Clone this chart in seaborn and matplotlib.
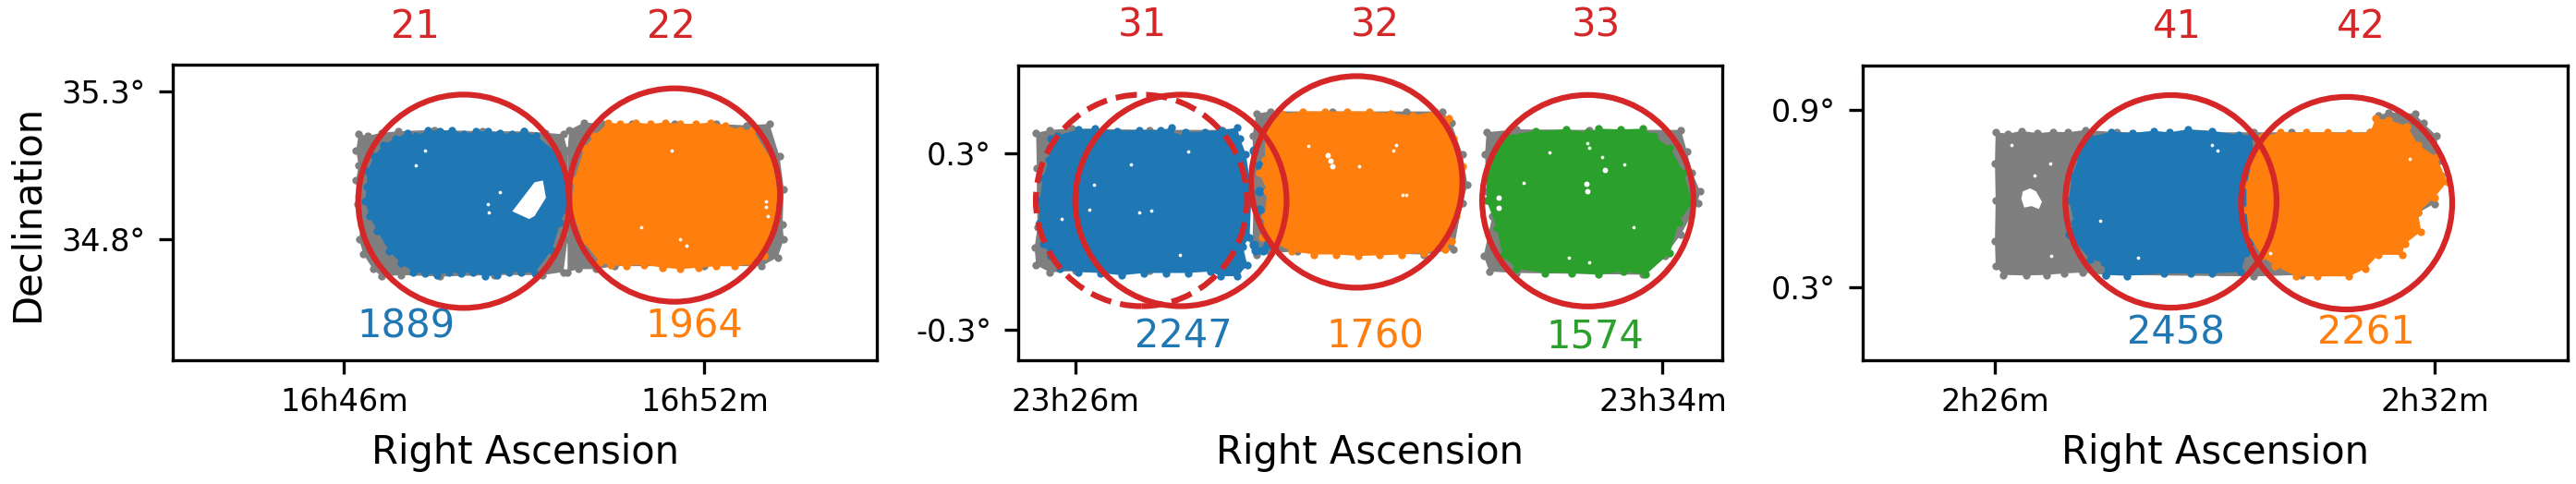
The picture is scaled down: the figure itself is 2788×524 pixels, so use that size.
import numpy as np
import matplotlib
matplotlib.use('Agg')
import matplotlib.pyplot as plt
from matplotlib.patches import Ellipse
import seaborn as sns

# field outlines. ra in minutes of the panel's hour, dec in degrees
# panel 1 (16h)
grey1_ra = [46.24, 46.40, 46.62, 46.90, 47.5, 48.3, 49.0, 49.35, 49.65, 49.72, 49.72, 49.72, 49.65, 49.3, 48.5, 47.6, 46.95, 46.62, 46.48, 46.32, 46.25, 46.28, 46.22, 46.20, 46.24, 46.20]
grey1_dec = [35.155, 35.150, 35.16, 35.165, 35.17, 35.165, 35.165, 35.16, 35.155, 35.10, 34.95, 34.80, 34.69, 34.68, 34.68, 34.675, 34.68, 34.675, 34.70, 34.75, 34.80, 34.85, 34.92, 35.0, 35.05, 35.10]
grey2_ra = [49.75, 50.0, 50.3, 50.8, 51.5, 52.2, 52.7, 53.08, 53.25, 53.32, 53.3, 53.32, 53.22, 52.95, 52.0, 50.5, 50.2, 49.9, 49.72, 49.72, 49.72]
grey2_dec = [35.17, 35.195, 35.19, 35.19, 35.19, 35.19, 35.185, 35.19, 35.08, 34.97, 34.85, 34.80, 34.74, 34.71, 34.71, 34.71, 34.70, 34.70, 34.69, 34.85, 35.1]
blue21_ra = [46.85, 47.05, 47.20, 47.40, 47.60, 47.80, 48.00, 48.20, 48.40, 48.60, 48.80, 49.00, 49.20, 49.55, 49.70, 49.70, 49.60, 49.46, 49.17, 48.95, 48.75, 48.55, 48.35, 48.15, 47.95, 47.75, 47.55, 47.35, 47.15, 46.95, 46.75, 46.55, 46.42, 46.35, 46.38, 46.38, 46.50, 46.65]
blue21_dec = [35.14, 35.16, 35.15, 35.17, 35.165, 35.17, 35.155, 35.165, 35.165, 35.16, 35.155, 35.165, 35.15, 35.09, 35.00, 34.90, 34.858, 34.765, 34.687, 34.69, 34.69, 34.68, 34.675, 34.69, 34.685, 34.69, 34.68, 34.685, 34.69, 34.72, 34.76, 34.83, 34.88, 34.93, 34.98, 35.03, 35.08, 35.12]
orange22_ra = [50.16, 50.4, 50.6, 50.85, 51.1, 51.35, 51.6, 51.85, 52.1, 52.35, 52.6, 52.8, 53.13, 53.22, 53.18, 52.99, 52.8, 52.5, 52.2, 51.9, 51.6, 51.3, 51.0, 50.7, 50.44, 50.26, 49.97, 49.79, 49.83, 50.0]
orange22_dec = [35.149, 35.195, 35.19, 35.195, 35.19, 35.195, 35.19, 35.19, 35.195, 35.185, 35.17, 35.17, 35.066, 34.962, 34.858, 34.744, 34.715, 34.71, 34.71, 34.705, 34.70, 34.705, 34.715, 34.71, 34.713, 34.723, 34.796, 34.9, 35.0, 35.108]
hole21_ra = [48.80, 49.17, 49.31, 49.36, 49.17, 49.08]
hole21_dec = [34.895, 34.993, 34.999, 34.941, 34.879, 34.869]
holes1_small_ra = [48.39, 48.41, 53.03, 53.05, 53.02, 47.2, 47.35, 48.6, 51.6, 51.7, 51.45, 50.95]
holes1_small_dec = [34.92, 34.89, 34.91, 34.88, 34.93, 35.05, 35.1, 34.96, 34.8, 34.78, 35.1, 34.84]

# panel 2 (23h)
grey31_ra = [25.46, 25.65, 25.95, 27.0, 28.0, 28.2, 28.3, 28.2, 27.0, 26.0, 25.65, 25.46, 25.44, 25.48, 25.47, 25.47]
grey31_dec = [0.37, 0.38, 0.385, 0.38, 0.38, 0.3, 0.1, -0.1, -0.1, -0.10, -0.105, -0.08, -0.02, 0.05, 0.15, 0.25]
blue31_ra = [25.66, 25.74, 26.04, 26.26, 26.56, 26.86, 27.16, 27.31, 27.37, 27.49, 27.76, 27.98, 28.2, 28.24, 28.32, 28.37, 28.39, 28.37, 28.28, 28.34, 28.2, 27.98, 27.83, 27.53, 27.23, 26.93, 26.63, 26.34, 26.04, 25.78, 25.66, 25.55, 25.5, 25.51, 25.55, 25.63, 25.65]
blue31_dec = [0.35, 0.36, 0.382, 0.384, 0.377, 0.38, 0.38, 0.387, 0.356, 0.372, 0.374, 0.38, 0.387, 0.35, 0.298, 0.214, 0.13, 0.014, -0.018, -0.081, -0.118, -0.118, -0.102, -0.107, -0.107, -0.107, -0.115, -0.107, -0.104, -0.094, -0.049, -0.007, 0.066, 0.14, 0.214, 0.277, 0.32]
blue31_extra_ra = [28.43, 28.5, 28.5, 28.5, 28.43, 28.45, 28.55, 28.62]
blue31_extra_dec = [0.31, 0.26, 0.17, 0.11, -0.01, -0.03, -0.03, -0.01]
grey32_ra = [28.46, 28.65, 29.5, 30.5, 31.0, 31.12, 31.27, 31.34, 31.27, 31.15, 30.74, 29.02, 28.65, 28.46, 28.41, 28.43, 28.41]
grey32_dec = [0.435, 0.443, 0.443, 0.443, 0.443, 0.403, 0.298, 0.193, 0.13, -0.028, -0.044, -0.034, -0.039, -0.044, 0.003, 0.193, 0.36]
orange32_ra = [28.8, 28.65, 28.58, 28.58, 28.5, 28.61, 28.58, 28.54, 28.73, 28.95, 29.25, 29.55, 29.85, 30.14, 30.44, 30.74, 31.04, 31.12, 31.08, 31.19, 31.23, 31.27, 31.15, 31.08, 30.89, 30.59, 30.29, 30.0, 29.7, 29.4, 29.1]
orange32_dec = [0.435, 0.403, 0.36, 0.277, 0.235, 0.172, 0.087, 0.014, -0.007, -0.034, -0.044, -0.044, -0.049, -0.047, -0.044, -0.039, -0.028, 0.003, 0.045, 0.087, 0.172, 0.256, 0.351, 0.419, 0.443, 0.429, 0.437, 0.443, 0.443, 0.443, 0.443]
grey33_ra = [31.6, 32.01, 33.0, 34.25, 34.33, 34.4, 34.51, 34.48, 34.25, 34.03, 33.73, 32.01, 31.64, 31.56, 31.68, 31.6, 31.58]
grey33_dec = [0.372, 0.382, 0.38, 0.38, 0.308, 0.235, 0.172, 0.13, 0.024, -0.049, -0.113, -0.107, -0.102, -0.049, 0.087, 0.172, 0.298]
green33_ra = [31.86, 32.27, 32.68, 32.98, 33.13, 33.43, 33.73, 33.88, 34.1, 34.29, 34.4, 34.22, 34.1, 33.77, 33.47, 33.13, 32.76, 32.39, 32.01, 31.82, 31.74, 31.6, 31.6, 31.76]
green33_dec = [0.361, 0.377, 0.382, 0.372, 0.384, 0.382, 0.384, 0.361, 0.319, 0.235, 0.13, 0.066, -0.039, -0.113, -0.102, -0.113, -0.107, -0.107, -0.092, -0.049, 0.045, 0.14, 0.224, 0.319]
holes2_big_ra = [29.44, 29.47, 29.5, 32.96, 32.97, 31.76, 31.76, 33.21]
holes2_big_dec = [0.295, 0.275, 0.255, 0.195, 0.17, 0.15, 0.115, 0.245]
holes2_small_ra = [26.25, 27.03, 26.75, 27.53, 27.42, 25.81, 26.86, 26.19, 30.37, 30.33, 30.45, 30.5, 29.17, 29.86, 32.98, 33.0, 33.17, 32.46, 32.72, 33.48, 33.0, 32.1, 33.6]
holes2_small_dec = [0.193, 0.105, 0.261, 0.308, -0.044, 0.077, 0.098, 0.108, 0.329, 0.31, 0.159, 0.159, 0.324, 0.256, 0.335, 0.32, 0.287, 0.303, -0.055, 0.261, -0.071, 0.2, 0.05]

# panel 3 (2h)
grey4_ra = [26.01, 26.18, 26.36, 26.58, 26.79, 27.0, 27.23, 27.66, 29.53, 30.04, 31.12, 31.23, 31.37, 31.73, 31.84, 32.02, 32.06, 32.09, 31.99, 31.77, 31.26, 30.54, 30.18, 29.53, 27.51, 27.2, 26.94, 26.7, 26.43, 26.11, 26.01, 26.0, 26.01, 26.0]
grey4_dec = [0.825, 0.82, 0.83, 0.822, 0.827, 0.825, 0.833, 0.825, 0.825, 0.825, 0.825, 0.882, 0.893, 0.888, 0.856, 0.814, 0.73, 0.678, 0.583, 0.552, 0.436, 0.352, 0.342, 0.337, 0.342, 0.35, 0.347, 0.342, 0.34, 0.342, 0.373, 0.457, 0.594, 0.72]
blue41_ra = [27.3, 27.59, 27.87, 28.16, 28.38, 28.63, 28.96, 29.32, 29.5, 29.53, 29.46, 29.43, 29.53, 29.57, 29.43, 29.35, 28.96, 28.67, 28.31, 27.8, 27.51, 27.48, 27.3, 27.08, 27.01, 27.08, 27.01, 27.05, 27.15, 27.19]
blue41_dec = [0.809, 0.827, 0.823, 0.83, 0.825, 0.835, 0.83, 0.817, 0.814, 0.751, 0.688, 0.604, 0.52, 0.457, 0.415, 0.352, 0.347, 0.347, 0.347, 0.339, 0.342, 0.384, 0.394, 0.457, 0.478, 0.52, 0.594, 0.678, 0.741, 0.783]
orange42_ra = [29.64, 29.89, 30.25, 30.54, 30.83, 31.12, 31.19, 31.37, 31.62, 31.77, 32.02, 32.17, 31.99, 31.77, 31.81, 31.59, 31.55, 31.23, 31.05, 30.83, 30.4, 30.11, 29.82, 29.64, 29.46, 29.43, 29.43, 29.5, 29.57]
orange42_dec = [0.809, 0.825, 0.825, 0.825, 0.823, 0.825, 0.872, 0.867, 0.846, 0.783, 0.741, 0.657, 0.604, 0.552, 0.489, 0.447, 0.41, 0.41, 0.363, 0.337, 0.337, 0.337, 0.373, 0.405, 0.478, 0.562, 0.646, 0.72, 0.751]
hole41_ra = [26.38, 26.48, 26.56, 26.64, 26.6, 26.5, 26.4, 26.36]
hole41_dec = [0.625, 0.635, 0.625, 0.59, 0.565, 0.575, 0.57, 0.6]
holes3_small_ra = [26.22, 26.54, 26.76, 26.77, 27.44, 27.95, 28.96, 29.03, 31.66, 29.75]
holes3_small_dec = [0.783, 0.678, 0.72, 0.405, 0.526, 0.4, 0.783, 0.762, 0.735, 0.415]

# circles: (ra centre, dec centre)
circles1 = [(47.99, 34.929), (51.5, 34.95)]
circles2 = [(27.434, 0.14), (29.83, 0.203), (32.98, 0.139)]
circle2_dashed = (26.896, 0.14)
circles3 = [(28.40, 0.591), (30.795, 0.585)]
radius_deg = 0.36

# numbers
labels1, labels1_ra, labels1_dec = ['21', '22'], [47.18, 51.45], 35.518
labels2, labels2_ra, labels2_dec = ['31', '32', '33'], [26.91, 30.085, 33.09], 0.735
labels3, labels3_ra, labels3_dec = ['41', '42'], [28.49, 30.99], 1.1835
counts1, counts1_ra, counts1_dec = ['1889', '1964'], [47.03, 51.83], 34.507
counts2, counts2_ra, counts2_dec = ['2247', '1760', '1574'], [27.47, 30.085, 33.08], -0.323
counts3, counts3_ra, counts3_dec = ['2458', '2261'], [28.466, 31.06], 0.146


def draw_blob(ax, ra, dec, color):
    ax.fill(ra, dec, color=color, linewidth=0)
    sns.scatterplot(x=ra, y=dec, color=color, s=4, linewidth=0, ax=ax)


def draw_holes(ax, ra, dec, size):
    sns.scatterplot(x=ra, y=dec, color='white', s=size, linewidth=0, ax=ax)


def draw_circle(ax, ra, dec, ls='-'):
    # 4 minutes of RA per degree, stretched by cos(dec)
    w = 2 * radius_deg * 4 / np.cos(np.radians(dec))
    ax.add_patch(Ellipse((ra, dec), w, 2 * radius_deg, fill=False, edgecolor='tab:red',
                         linewidth=1.5, linestyle=ls, zorder=5))


W, H = 2788, 524
fig = plt.figure(figsize=(W / 300, H / 300), dpi=300)


def make_axes(left, right, top, bottom):
    return fig.add_axes([left / W, 1 - bottom / H, (right - left) / W, (bottom - top) / H])


ax1 = make_axes(187, 949, 70, 390)
ax2 = make_axes(1102, 1864, 71, 390)
ax3 = make_axes(2016, 2779, 71, 390)

draw_blob(ax1, grey1_ra, grey1_dec, 'tab:gray')
draw_blob(ax1, grey2_ra, grey2_dec, 'tab:gray')
draw_blob(ax1, blue21_ra, blue21_dec, 'tab:blue')
draw_blob(ax1, orange22_ra, orange22_dec, 'tab:orange')
ax1.fill(hole21_ra, hole21_dec, color='white', linewidth=0)
draw_holes(ax1, holes1_small_ra, holes1_small_dec, 0.8)

draw_blob(ax2, grey31_ra, grey31_dec, 'tab:gray')
draw_blob(ax2, grey32_ra, grey32_dec, 'tab:gray')
draw_blob(ax2, grey33_ra, grey33_dec, 'tab:gray')
sns.scatterplot(x=blue31_extra_ra, y=blue31_extra_dec, color='tab:blue', s=6, linewidth=0, ax=ax2)
draw_blob(ax2, orange32_ra, orange32_dec, 'tab:orange')
draw_blob(ax2, blue31_ra, blue31_dec, 'tab:blue')
draw_blob(ax2, green33_ra, green33_dec, 'tab:green')
draw_holes(ax2, holes2_big_ra, holes2_big_dec, 2)
draw_holes(ax2, holes2_small_ra, holes2_small_dec, 0.8)

draw_blob(ax3, grey4_ra, grey4_dec, 'tab:gray')
draw_blob(ax3, blue41_ra, blue41_dec, 'tab:blue')
draw_blob(ax3, orange42_ra, orange42_dec, 'tab:orange')
ax3.fill(hole41_ra, hole41_dec, color='white', linewidth=0)
draw_holes(ax3, holes3_small_ra, holes3_small_dec, 0.8)

for ra, dec in circles1:
    draw_circle(ax1, ra, dec)
for ra, dec in circles2:
    draw_circle(ax2, ra, dec)
draw_circle(ax2, *circle2_dashed, ls='--')
for ra, dec in circles3:
    draw_circle(ax3, ra, dec)

panels = [
    (ax1, labels1, labels1_ra, labels1_dec, counts1, counts1_ra, counts1_dec),
    (ax2, labels2, labels2_ra, labels2_dec, counts2, counts2_ra, counts2_dec),
    (ax3, labels3, labels3_ra, labels3_dec, counts3, counts3_ra, counts3_dec),
]
colors = ['tab:blue', 'tab:orange', 'tab:green']
for ax, labs, labs_ra, labs_dec, cnts, cnts_ra, cnts_dec in panels:
    for i in range(len(labs)):
        ax.text(labs_ra[i], labs_dec, labs[i], color='tab:red', fontsize=10, ha='center', va='center')
        ax.text(cnts_ra[i], cnts_dec, cnts[i], color=colors[i], fontsize=10, ha='center', va='center')

ax1.set_xlim(43.146, 54.87)
ax1.set_ylim(34.3925, 35.39)
ax1.set_xticks([46, 52], ['16h46m', '16h52m'])
ax1.set_yticks([34.8, 35.3], ['34.8°', '35.3°'])

ax2.set_xlim(25.216, 34.813)
ax2.set_ylim(-0.404, 0.599)
ax2.set_xticks([26, 34], ['23h26m', '23h34m'])
ax2.set_yticks([-0.3, 0.3], ['-0.3°', '0.3°'])

ax3.set_xlim(24.197, 33.81)
ax3.set_ylim(0.053, 1.051)
ax3.set_xticks([26, 32], ['2h26m', '2h32m'])
ax3.set_yticks([0.3, 0.9], ['0.3°', '0.9°'])

for ax in [ax1, ax2, ax3]:
    ax.tick_params(labelsize=8)
    ax.set_xlabel('Right Ascension', fontsize=10)
ax1.set_ylabel('Declination', fontsize=10)

fig.savefig('out.png', dpi=300)
